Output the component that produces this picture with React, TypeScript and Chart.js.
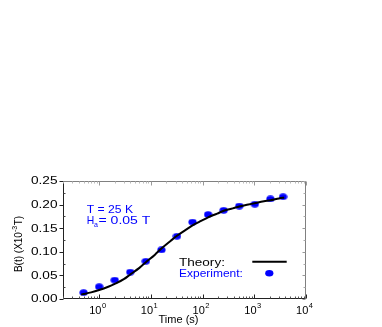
import React, { useEffect, useRef } from "react";
import { Chart, registerables } from "chart.js";
Chart.register(...registerables);

// ---- data ----
const expTimes = [0.5, 1, 2, 4, 8, 16, 32, 64, 128, 256, 512, 1024, 2048, 3600];
const expB = [0.0135, 0.026, 0.040, 0.057, 0.080, 0.104, 0.133, 0.163, 0.179, 0.188, 0.197, 0.201, 0.212, 0.2165];

const theoryTimes = [0.45, 0.5, 0.7, 1, 1.5, 2, 3, 4, 6, 8, 12, 16, 24, 32, 48, 64, 96, 128, 192, 256, 384, 512, 768, 1024, 1536, 2048, 3000, 3800];
const theoryB = [0.0095, 0.0105, 0.014, 0.019, 0.026, 0.032, 0.042, 0.052, 0.066, 0.078, 0.094, 0.107, 0.123, 0.134, 0.147, 0.156, 0.166, 0.173, 0.181, 0.187, 0.192, 0.196, 0.200, 0.203, 0.207, 0.209, 0.213, 0.215];

const yTicks = [0, 0.05, 0.1, 0.15, 0.2, 0.25];
const yTickLabels = ["0.00", "0.05", "0.10", "0.15", "0.20", "0.25"];
const xDecades = [0, 1, 2, 3, 4];
const xTickExps = ["0", "1", "2", "3", "4"];

const X_MIN = 0.2;
const X_MAX = 10000;
const Y_MIN = 0;
const Y_MAX = 0.25;

const FONT = "'Liberation Sans', Arial, Helvetica, sans-serif";
const BLUE = "#0000ff";

function makeDot(): HTMLCanvasElement {
  const c = document.createElement("canvas");
  c.width = 9;
  c.height = 7;
  const g = c.getContext("2d")!;
  g.fillStyle = BLUE;
  g.beginPath();
  g.ellipse(4.5, 3.5, 4.1, 3.2, 0, 0, Math.PI * 2);
  g.fill();
  return c;
}

function txt(
  ctx: CanvasRenderingContext2D,
  s: string,
  x: number,
  y: number,
  size: number,
  color: string,
  sx = 1,
  align: CanvasTextAlign = "left",
  baseline: CanvasTextBaseline = "alphabetic"
) {
  ctx.save();
  ctx.translate(x, y);
  ctx.scale(sx, 1);
  ctx.font = `${size}px ${FONT}`;
  ctx.fillStyle = color;
  ctx.textAlign = align;
  ctx.textBaseline = baseline;
  ctx.fillText(s, 0, 0);
  ctx.restore();
}

const decorPlugin = {
  id: "decor",
  afterDatasetsDraw(chart: any) {
    const ctx: CanvasRenderingContext2D = chart.ctx;
    const xs = chart.scales.x;
    const ys = chart.scales.y;
    const { left, right, top, bottom } = chart.chartArea;
    const L = Math.round(left) + 0.5;
    const R = Math.round(right) - 0.5;
    const T = Math.round(top) + 0.5;
    const B = Math.round(bottom) - 0.5;

    ctx.save();
    ctx.lineWidth = 1;
    ctx.strokeStyle = "#808080";
    ctx.beginPath();
    ctx.moveTo(L, T);
    ctx.lineTo(R, T);
    ctx.lineTo(R, B);
    ctx.stroke();
    ctx.strokeStyle = "#222";
    ctx.beginPath();
    ctx.moveTo(L, T);
    ctx.lineTo(L, B);
    ctx.lineTo(R, B);
    ctx.stroke();

    yTicks.forEach((v) => {
      const py = Math.round(ys.getPixelForValue(v)) + 0.5;
      ctx.strokeStyle = "#222";
      ctx.beginPath();
      ctx.moveTo(L - 4, py);
      ctx.lineTo(L, py);
      ctx.stroke();
      ctx.strokeStyle = "#999";
      ctx.beginPath();
      ctx.moveTo(R, py);
      ctx.lineTo(R - 3, py);
      ctx.stroke();
    });
    for (let i = 0; i < yTicks.length - 1; i++) {
      const v = (yTicks[i] + yTicks[i + 1]) / 2;
      const py = Math.round(ys.getPixelForValue(v)) + 0.5;
      ctx.strokeStyle = "#444";
      ctx.beginPath();
      ctx.moveTo(L, py);
      ctx.lineTo(L + 2, py);
      ctx.stroke();
      ctx.strokeStyle = "#aaa";
      ctx.beginPath();
      ctx.moveTo(R, py);
      ctx.lineTo(R - 2, py);
      ctx.stroke();
    }

    for (let d = -1; d <= 4; d++) {
      for (let m = 1; m <= 9; m++) {
        const v = m * Math.pow(10, d);
        if (v < X_MIN - 1e-9 || v > X_MAX + 1e-9) continue;
        const px = Math.round(xs.getPixelForValue(v)) + 0.5;
        const major = m === 1;
        const len = major ? 4 : 2;
        ctx.strokeStyle = major ? "#222" : "#555";
        ctx.beginPath();
        ctx.moveTo(px, B);
        ctx.lineTo(px, B - len);
        ctx.stroke();
        ctx.strokeStyle = major ? "#999" : "#bbb";
        ctx.beginPath();
        ctx.moveTo(px, T);
        ctx.lineTo(px, T + len);
        ctx.stroke();
      }
    }
    ctx.restore();

    yTicks.forEach((v, i) => {
      const py = ys.getPixelForValue(v);
      txt(ctx, yTickLabels[i], 57.5, py + 0.5, 10.5, "#000", 1.3, "right", "middle");
    });

    xDecades.forEach((e, i) => {
      const px = xs.getPixelForValue(Math.pow(10, e));
      const x0 = px - 10;
      txt(ctx, "10", x0, 313.5, 10.5, "#000", 1.05);
      ctx.font = `10.5px ${FONT}`;
      const w = ctx.measureText("10").width * 1.05;
      txt(ctx, xTickExps[i], x0 + w + 0.5, 308, 7.5, "#000");
    });

    txt(ctx, "Time (s)", 178.5, 322.5, 11, "#000", 1.0, "center");

    ctx.save();
    ctx.translate(21.5, 244);
    ctx.rotate(-Math.PI / 2);
    ctx.font = `10px ${FONT}`;
    const p1 = "B(t) (X10";
    const p3 = "T)";
    const w1 = ctx.measureText(p1).width;
    const w3 = ctx.measureText(p3).width;
    ctx.font = `7px ${FONT}`;
    const p2 = "-3";
    const w2 = ctx.measureText(p2).width;
    const total = w1 + w2 + w3 + 0.5;
    let cx = -total / 2;
    txt(ctx, p1, cx, 0, 10, "#000");
    cx += w1;
    txt(ctx, p2, cx, -4.5, 7, "#000");
    cx += w2 + 0.5;
    txt(ctx, p3, cx, 0, 10, "#000");
    ctx.restore();

    txt(ctx, "T = 25 K", 86.7, 212.5, 11.5, BLUE, 1.06);
    txt(ctx, "H", 86.7, 224.3, 11.5, BLUE, 0.9);
    txt(ctx, "a", 94, 227.3, 7, BLUE, 1.0);
    txt(ctx, "= 0.05 T", 98.5, 224.3, 11.5, BLUE, 1.22);

    txt(ctx, "Theory:", 179, 265.7, 10.5, "#000", 1.29);
    txt(ctx, "Experiment:", 179, 276.7, 10.5, BLUE, 1.14);
    ctx.save();
    ctx.strokeStyle = "#000";
    ctx.lineWidth = 2;
    ctx.beginPath();
    ctx.moveTo(252.3, 261.7);
    ctx.lineTo(286.7, 261.7);
    ctx.stroke();
    ctx.fillStyle = BLUE;
    ctx.beginPath();
    ctx.ellipse(269.3, 273.3, 4.1, 3.2, 0, 0, Math.PI * 2);
    ctx.fill();
    ctx.restore();
  },
};

export default function App() {
  const ref = useRef<HTMLCanvasElement | null>(null);
  useEffect(() => {
    if (!ref.current) return;
    const dot = makeDot();
    const chart = new Chart(ref.current, {
      type: "line",
      data: {
        datasets: [
          {
            label: "Experiment",
            data: expTimes.map((t, i) => ({ x: t, y: expB[i] })),
            showLine: false,
            pointStyle: dot as any,
            pointRadius: 4,
            pointBackgroundColor: BLUE,
            pointBorderColor: BLUE,
            order: 2,
          },
          {
            label: "Theory",
            data: theoryTimes.map((t, i) => ({ x: t, y: theoryB[i] })),
            borderColor: "#000",
            borderWidth: 2,
            pointRadius: 0,
            cubicInterpolationMode: "monotone",
            fill: false,
            order: 1,
          },
        ],
      },
      options: {
        animation: false,
        responsive: true,
        maintainAspectRatio: false,
        layout: { padding: { left: 63, top: 181, right: 76, bottom: 28 } },
        plugins: { legend: { display: false }, tooltip: { enabled: false } },
        events: [],
        scales: {
          x: { type: "logarithmic", min: X_MIN, max: X_MAX, display: false },
          y: { type: "linear", min: Y_MIN, max: Y_MAX, display: false },
        },
      },
      plugins: [decorPlugin],
    });
    return () => chart.destroy();
  }, []);
  return (
    <div style={{ position: "fixed", left: 0, top: 0, width: 382, height: 327, background: "#fff" }}>
      <canvas ref={ref} />
    </div>
  );
}
